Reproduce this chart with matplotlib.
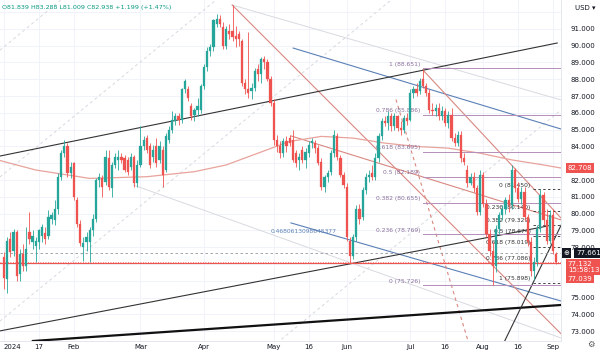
import matplotlib.pyplot as plt
from matplotlib.transforms import blended_transform_factory

# daily bars, 2 Jan - 3 Sep 2024 (x = trading-day index)
opens = [77.4, 76.1, 78.5, 77.8, 78.9, 76.4, 77.6, 76.9, 78.9, 78.3, 78.1, 78.3, 78.7, 78.85, 78.7, 79.7, 79.6, 80.3, 82.2, 83.6, 84.0, 82.4,
         83.0, 80.8, 79.4, 78.0, 78.3, 78.3, 79.0, 79.7, 82.0, 82.1, 81.9, 83.3, 81.5, 82.9, 83.2, 83.4, 83.3, 83.2, 82.8, 83.4, 81.8,
         82.9, 84.0, 84.5, 84.0, 83.4, 84.0, 83.2, 83.8, 82.6, 84.4, 85.0, 85.5, 85.8, 85.6, 87.4, 87.4, 86.4, 85.9, 86.2, 86.2,
         87.6, 88.75, 89.7, 89.9, 91.3, 91.6, 91.1, 90.0, 90.9, 90.9, 90.6, 90.7, 90.3, 87.8, 87.4, 87.3, 87.5, 88.6, 88.3, 89.2, 89.0, 88.0,
         86.6, 84.4, 84.0, 83.6, 84.3, 84.5, 84.4, 83.6, 83.2, 83.8, 83.2, 83.6, 84.2, 84.2, 83.9, 83.1, 81.6, 82.2, 82.5, 83.6, 84.6, 83.3, 82.3,
         81.6, 78.4, 77.5, 78.6, 80.3, 79.8, 81.4, 82.2, 82.4, 82.2, 83.3, 84.6, 85.5, 85.4, 85.8, 85.2, 85.8, 85.1, 85.0, 85.7,
         85.6, 87.2, 87.4, 87.3, 88.0, 87.6, 87.2, 86.2, 86.1, 86.3, 85.8, 86.1, 85.4, 85.9, 84.5, 84.2, 84.7, 83.3, 82.6, 81.8, 82.2, 81.5, 80.1,
         82.3, 80.6, 78.8, 77.8, 76.9, 79.1, 79.9, 80.3, 80.8, 80.5, 82.6, 81.5, 80.9, 81.3, 79.8, 78.3, 76.6, 77.1, 79.1, 81.1, 79.6, 78.4,
         79.9, 77.6]
highs = [77.7, 78.6, 78.9, 79.1, 79.0, 77.9, 78.2, 79.2, 80.1, 79.0, 78.6, 79.1, 79.4, 79.2, 80.2, 80.1, 80.8, 82.4, 83.8, 84.4, 84.2, 83.1,
         83.1, 81.0, 79.6, 78.6, 78.9, 79.2, 80.0, 82.1, 82.4, 82.3, 83.8, 83.8, 83.1, 83.6, 83.8, 83.6, 83.5, 83.4, 83.6, 83.5, 83.2,
         85.2, 84.6, 84.7, 84.2, 84.1, 84.5, 84.3, 84.0, 84.8, 85.2, 86.1, 86.0, 86.0, 87.5, 88.0, 87.6, 86.6, 86.3, 86.9, 87.7,
         88.9, 89.9, 90.1, 91.6, 91.9, 91.8, 91.4, 91.2, 91.3, 92.4, 91.2, 90.9, 90.4, 88.0, 90.8, 87.8, 88.7, 88.9, 89.3, 89.4, 89.2, 88.2,
         86.8, 84.7, 84.3, 84.5, 84.6, 84.7, 85.0, 83.8, 83.6, 84.0, 83.9, 84.3, 84.5, 84.4, 84.1, 83.3, 82.3, 82.6, 83.8, 85.0, 84.8, 83.5, 82.5,
         81.8, 78.6, 78.8, 80.5, 80.6, 81.6, 82.4, 82.6, 82.9, 83.6, 84.8, 85.7, 85.8, 86.1, 86.0, 86.0, 85.9, 85.5, 85.9, 86.0,
         87.4, 87.6, 87.8, 88.1, 88.6, 87.8, 87.4, 86.6, 86.5, 86.6, 86.4, 86.3, 86.1, 86.3, 84.8, 84.9, 84.9, 83.6, 82.9, 82.4, 82.5, 81.7, 82.6,
         82.5, 80.9, 79.1, 78.3, 79.3, 80.1, 80.5, 81.0, 81.2, 82.9, 82.7, 81.9, 81.6, 81.6, 80.0, 78.6, 77.4, 79.3, 81.45, 81.3, 80.3, 80.2,
         80.3, 77.7]
lows = [75.5, 75.3, 77.4, 77.5, 76.0, 76.0, 76.6, 76.6, 78.2, 77.9, 77.1, 77.9, 78.3, 78.2, 78.5, 79.4, 79.3, 80.0, 82.0, 83.4, 82.2, 82.1,
        80.8, 79.2, 78.1, 77.2, 77.8, 77.1, 78.7, 79.5, 81.6, 81.0, 81.7, 81.4, 81.0, 82.7, 82.6, 83.0, 82.5, 82.3, 82.6, 81.6, 81.6,
        82.8, 83.8, 83.6, 82.7, 83.1, 82.8, 83.0, 81.6, 82.5, 84.2, 84.8, 85.3, 85.3, 85.4, 87.2, 86.7, 85.6, 85.5, 85.8, 86.0,
        87.4, 88.5, 89.4, 89.7, 91.1, 91.1, 89.8, 89.8, 90.4, 90.3, 89.9, 90.0, 87.6, 87.1, 86.9, 86.8, 87.3, 87.9, 87.8, 88.6, 87.9, 86.4,
        84.1, 83.7, 83.3, 83.4, 83.7, 84.0, 83.1, 82.8, 82.6, 83.0, 82.7, 83.4, 83.9, 83.6, 82.9, 81.4, 81.3, 81.9, 82.3, 83.4, 83.2, 82.2, 81.5,
        78.4, 77.05, 77.3, 78.4, 79.4, 79.6, 81.2, 81.9, 82.0, 82.0, 83.1, 84.4, 85.2, 85.0, 84.9, 85.0, 84.9, 84.7, 84.8, 85.3,
        85.5, 86.9, 87.0, 87.1, 87.5, 87.0, 86.0, 85.9, 85.8, 85.6, 85.6, 85.2, 85.1, 84.3, 84.0, 84.0, 83.1, 82.9, 81.6, 81.7, 81.3, 79.9, 79.9,
        80.4, 78.6, 77.5, 75.75, 76.5, 78.8, 79.6, 80.0, 80.1, 80.3, 81.3, 80.7, 80.6, 79.6, 78.1, 76.3, 76.05, 76.9, 78.9, 79.3, 78.2, 78.2,
        77.6, 77.0]
closes = [76.2, 78.4, 77.7, 78.9, 76.3, 77.6, 76.9, 77.9, 78.5, 78.7, 78.4, 79.0, 79.2, 78.5, 79.8, 79.9, 80.3, 82.2, 83.6, 84.0, 82.4, 82.8,
          81.0, 79.4, 78.25, 78.25, 78.6, 79.0, 79.7, 82.0, 82.2, 81.6, 83.4, 81.6, 82.9, 83.4, 83.4, 83.2, 82.6, 82.5, 83.4, 81.8, 82.9,
          84.0, 84.4, 83.8, 82.9, 83.8, 83.0, 84.0, 82.3, 84.6, 85.0, 85.6, 85.8, 85.6, 87.4, 87.9, 86.9, 85.8, 86.2, 86.4, 87.6,
          88.75, 89.7, 89.95, 91.5, 91.6, 91.3, 90.0, 91.0, 90.7, 90.5, 90.4, 90.4, 87.8, 87.4, 87.2, 87.5, 88.5, 88.3, 89.2, 89.0, 88.0, 86.6,
          84.4, 84.0, 83.6, 84.3, 84.0, 84.2, 83.2, 83.0, 83.4, 83.2, 83.7, 84.1, 84.3, 83.9, 83.0, 81.6, 82.2, 82.4, 83.6, 84.7, 83.4, 82.3, 81.7,
          78.6, 77.5, 78.6, 80.3, 79.7, 81.4, 82.2, 82.3, 82.2, 83.3, 84.6, 85.5, 85.4, 85.8, 85.2, 85.8, 85.1, 85.0, 85.7, 85.5,
          87.2, 87.4, 87.2, 87.9, 87.6, 87.2, 86.2, 86.1, 86.3, 85.8, 86.1, 85.4, 85.9, 84.5, 84.2, 84.7, 83.3, 83.1, 81.8, 82.2, 81.5, 80.1, 82.3,
          80.6, 78.8, 77.8, 76.9, 79.1, 79.9, 80.3, 80.8, 80.5, 82.6, 81.5, 80.9, 81.3, 79.8, 78.3, 76.6, 77.1, 79.1, 81.1, 79.6, 78.4, 79.9,
          77.8, 77.13]

# moving average
ma_x = [-2, 10, 27, 45, 60, 70, 80, 90, 100, 110, 120, 130, 140, 150, 160, 170, 176]
ma_y = [83.2, 82.6, 82.1, 82.2, 82.5, 82.9, 83.6, 84.3, 84.6, 84.5, 84.2, 84.0, 83.9, 83.6, 83.2, 82.9, 82.7]

# date axis
tick_idx = [0, 11, 22, 43, 63, 85, 96, 108, 128, 139, 151, 162, 173]
tick_lab = ["2024", "17", "Feb", "Mar", "Apr", "May", "16", "Jun", "Jul", "16", "Aug", "16", "Sep"]
price_ticks = [91, 90, 89, 88, 87, 86, 85, 84, 82, 81, 80, 79, 78, 75, 74, 73]

# trend lines (x0, p0, x1, p1)
black_thin = [(-1.3, 83.43, 174.3, 90.16), (-1.3, 73.02, 171.4, 79.27)]
black_thick = [(9.1, 72.42, 175.2, 74.56)]
black_steep = [(157.6, 72.36, 177.1, 79.92)]
blue_lines = [(91.1, 89.86, 175.5, 85.04), (90.4, 79.45, 175.5, 74.80)]
grey_lines = [(71.9, 92.42, 175.5, 86.77), (40.7, 81.71, 175.5, 72.60)]
red_lines = [(71.9, 92.42, 178.1, 72.36), (90.4, 84.63, 175.5, 79.63), (132.0, 88.55, 175.5, 79.74)]
red_dashed = [(123.5, 86.8, 146.3, 72.36)]
grey_dashed = [(-1.3, 89.73, 17.9, 92.72), (-1.3, 82.18, 66.8, 92.72),
               (-1.3, 73.60, 122.0, 92.72), (86.0, 72.30, 175.5, 86.17)]

# fib retracement on the July high -> August low
fib1_lvls = ["1", "0.786", "0.618", "0.5", "0.382", "0.236", "0"]
fib1_vals = [88.651, 85.886, 83.695, 82.189, 80.655, 78.769, 75.726]
fib1_start = 132
# fib retracement on the late-August swing
fib2_lvls = ["0", "0.236", "0.382", "0.5", "0.618", "0.786", "1"]
fib2_vals = [81.450, 80.140, 79.329, 78.674, 78.019, 77.086, 75.898]
fib2_start = 166.7

last_price = 77.132
cross_price = 77.661
hline_price = 77.039
ma_last = 82.708

UP, DOWN = "#26a69a", "#ef5350"

fig = plt.figure(figsize=(6.0, 3.52), dpi=100)
ax = fig.add_axes([0, 11 / 352, 561 / 600, 341 / 352])
ax.set_xlim(-1.26, 175.5)
ax.set_ylim(72.42, 92.72)

for t in tick_idx:
    ax.axvline(t, color="#f0f3fa", lw=0.7, zorder=0)
for p in range(73, 93):
    ax.axhline(p, color="#f0f3fa", lw=0.7, zorder=0)

def seg(lines, **kw):
    for x0, y0, x1, y1 in lines:
        ax.plot([x0, x1], [y0, y1], **kw)

seg(grey_dashed, color="#d6d9e0", lw=0.7, ls=(0, (3, 3)), zorder=1)
seg(grey_lines, color="#d8dae0", lw=0.7, zorder=1)
seg(blue_lines, color="#5b80b6", lw=0.8, zorder=1)
seg(red_lines, color="#d98880", lw=0.8, zorder=1)
seg(red_dashed, color="#d98880", lw=0.8, ls=(0, (3, 3)), zorder=1)
seg(black_thin, color="#333333", lw=0.8, zorder=1)
seg(black_thick, color="#111111", lw=1.6, zorder=1)
seg(black_steep, color="#333333", lw=0.8, zorder=1)

ax.plot(ma_x, ma_y, color="#e8a39c", lw=0.9, zorder=1)

x_end = 175.5
for lvl, v in zip(fib1_lvls, fib1_vals):
    ax.plot([fib1_start, x_end], [v, v], color="#b48fb8", lw=0.7, zorder=1)
    ax.text(fib1_start - 0.8, v + 0.1, f"{lvl} ({v:.3f})", fontsize=4.3,
            color="#8a6f9b", ha="right", va="bottom")
for lvl, v in zip(fib2_lvls, fib2_vals):
    ax.plot([fib2_start, x_end], [v, v], color="#444444", lw=0.7,
            ls=(0, (2.5, 2.5)), zorder=1)
    ax.text(fib2_start - 0.8, v + 0.1, f"{lvl} ({v:.3f})", fontsize=4.3,
            color="#333333", ha="right", va="bottom")

ax.text(84, 78.95, "0.4680613098645377", fontsize=4.3, color="#5b80b6",
        ha="left", va="center")

ax.axhline(hline_price, color="#ef5350", lw=0.8, zorder=1)
ax.axhline(cross_price, color="#9598a1", lw=0.6, ls=(0, (3, 3)), zorder=1)
ax.axhline(last_price, color="#ef5350", lw=0.6, ls=(0, (1, 2)), zorder=1)

# candles
for i, (o, h, l, c) in enumerate(zip(opens, highs, lows, closes)):
    col = UP if c >= o else DOWN
    ax.vlines(i, l, h, color=col, lw=0.6, zorder=3)
    ax.bar(i, max(abs(c - o), 0.04), bottom=min(o, c), width=0.7,
           color=col, edgecolor=col, lw=0.2, zorder=4)

ax.set_xticks(tick_idx)
ax.set_xticklabels(tick_lab)
ax.get_xticklabels()[0].set_horizontalalignment("left")
ax.yaxis.tick_right()
ax.set_yticks(price_ticks)
ax.set_yticklabels([f"{p:.3f}" for p in price_ticks])
ax.tick_params(axis="both", length=0, labelsize=5, colors="#131722", pad=2)
ax.tick_params(axis="y", pad=7)
for s in ["top", "left"]:
    ax.spines[s].set_visible(False)
for s in ["right", "bottom"]:
    ax.spines[s].set_color("#e0e3eb")
    ax.spines[s].set_linewidth(0.6)

tr = blended_transform_factory(ax.transAxes, ax.transData)
box = dict(boxstyle="square,pad=0.25", lw=0)
ax.text(1.012, ma_last, f"{ma_last:.3f}", transform=tr, fontsize=5, color="white",
        va="center", ha="left", bbox=dict(box, fc="#ef5350"))
ax.text(1.027, cross_price, f"{cross_price:.3f}", transform=tr, fontsize=5, color="white",
        va="center", ha="left", bbox=dict(box, fc="#131722"), zorder=6)
ax.text(1.005, cross_price, "\u2295", transform=tr, fontsize=5, color="white",
        va="center", ha="left", bbox=dict(box, fc="#131722"), zorder=6)
ax.text(1.012, last_price - 0.3, f"{last_price:.3f}\n15:58:13", transform=tr, fontsize=5,
        color="white", va="center", ha="left", linespacing=1.0,
        bbox=dict(box, fc="#ef5350"))
ax.text(1.012, hline_price - 0.9, f"{hline_price:.3f}", transform=tr, fontsize=5,
        color="white", va="center", ha="left", bbox=dict(box, fc="#ef5350"))

fig.text(0.975, 0.985, "USD \u25be", fontsize=5, ha="center", va="top", color="#131722")
fig.text(0.985, 0.008, "\u2699", fontsize=6, ha="center", va="bottom", color="#555555")
ax.text(0.004, 0.985, "O81.839 H83.288 L81.009 C82.938 +1.199 (+1.47%)",
        transform=ax.transAxes, fontsize=4.6, color="#089981", va="top", ha="left")

fig.savefig("out.png", dpi=100)
